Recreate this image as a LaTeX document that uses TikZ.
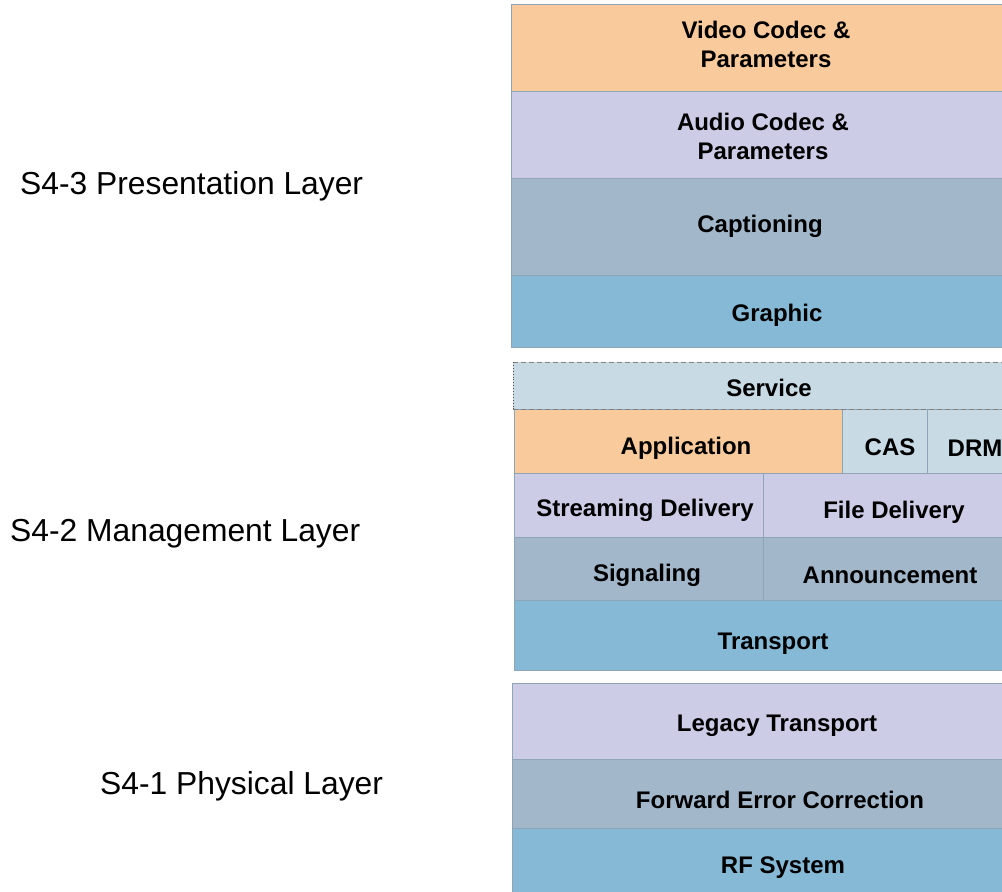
\documentclass[tikz,border=0pt]{standalone}
\usepackage{fontspec}
\setmainfont{Liberation Sans}
\begin{document}
\begin{tikzpicture}[x=1pt,y=-1pt,
  blk/.style={draw=edgecol, line width=0.8pt, anchor=north west, inner sep=0pt, outer sep=0pt},
  lbl/.style={font=\fontsize{24}{29}\selectfont\bfseries, align=center, inner sep=0pt, yshift=-2.5pt},
  layer/.style={font=\fontsize{31.8}{36}\selectfont, anchor=west, inner sep=0pt, yshift=-3pt},
  dashline/.style={black!50, dash pattern=on 5pt off 3pt, line width=1pt}]
\definecolor{edgecol}{HTML}{8FA4B6}
\definecolor{corange}{HTML}{F9CB9C}
\definecolor{clav}{HTML}{CCCCE6}
\definecolor{cgray}{HTML}{A2B7CA}
\definecolor{cblue}{HTML}{85B9D6}
\definecolor{clight}{HTML}{C8DAE4}
\useasboundingbox (0,0) rectangle (1002,892);
\clip (0,0) rectangle (1002,892);
% Presentation layer
\node[blk, fill=corange, minimum width=520pt, minimum height=87pt] (video) at (511,4) {};
\node[blk, fill=clav, minimum width=520pt, minimum height=87pt] (audio) at (511,91) {};
\node[blk, fill=cgray, minimum width=520pt, minimum height=97pt] (capt) at (511,178) {};
\node[blk, fill=cblue, minimum width=520pt, minimum height=72pt] (graph) at (511,275) {};
\node[lbl] (tvideo) at (766,42) {Video Codec \&\\Parameters};
\node[lbl] (taudio) at (763,134) {Audio Codec \&\\Parameters};
\node[lbl] (tcapt) at (760,224) {Captioning};
\node[lbl] (tgraph) at (777,313) {Graphic};
% Management layer
\node[anchor=north west, fill=clight, minimum width=500pt, minimum height=47pt, inner sep=0pt] (service) at (513,362) {};
\node[lbl] (tservice) at (769,385) {Service};
\node[blk, fill=corange, minimum width=328pt, minimum height=64pt] (app) at (514,409) {};
\node[blk, fill=clight, minimum width=85pt, minimum height=64pt] (cas) at (842,409) {};
\node[blk, fill=clight, minimum width=100pt, minimum height=64pt] (drm) at (927,409) {};
\draw[dashline] (service.north west) -- (service.north east);
\draw[dashline] (service.south west) -- (service.south east);
\draw[black!70, dotted, line width=0.9pt] (service.north west) -- (service.south west);
\node[lbl] (tapp) at (686,446) {Application};
\node[lbl] (tcas) at (890,445) {CAS};
\node[lbl] (tdrm) at (975,446) {DRM};
\node[blk, fill=clav, minimum width=249pt, minimum height=64pt] (stream) at (514,473) {};
\node[blk, fill=clav, minimum width=264pt, minimum height=64pt] (file) at (763,473) {};
\node[lbl] (tstream) at (645,508) {Streaming Delivery};
\node[lbl] (tfile) at (894,510) {File Delivery};
\node[blk, fill=cgray, minimum width=249pt, minimum height=63pt] (sig) at (514,537) {};
\node[blk, fill=cgray, minimum width=264pt, minimum height=63pt] (ann) at (763,537) {};
\node[lbl] (tsig) at (647,573) {Signaling};
\node[lbl] (tann) at (890,573) {Announcement};
\node[blk, fill=cblue, minimum width=513pt, minimum height=70pt] (transp) at (514,600) {};
\node[lbl] (ttransp) at (773,641) {Transport};
% Physical layer
\node[blk, fill=clav, minimum width=515pt, minimum height=76pt] (legacy) at (512,683) {};
\node[blk, fill=cgray, minimum width=515pt, minimum height=69pt] (fec) at (512,759) {};
\node[blk, fill=cblue, minimum width=515pt, minimum height=70pt] (rf) at (512,828) {};
\node[lbl] (tlegacy) at (777,723) {Legacy Transport};
\node[lbl] (tfec) at (780,797) {Forward Error Correction};
\node[lbl] (trf) at (783,865) {RF System};
% layer labels
\node[layer] (l3) at (20,183) {S4-3 Presentation Layer};
\node[layer] (l2) at (10,531) {S4-2 Management Layer};
\node[layer] (l1) at (100,783) {S4-1 Physical Layer};
\end{tikzpicture}
\end{document}
